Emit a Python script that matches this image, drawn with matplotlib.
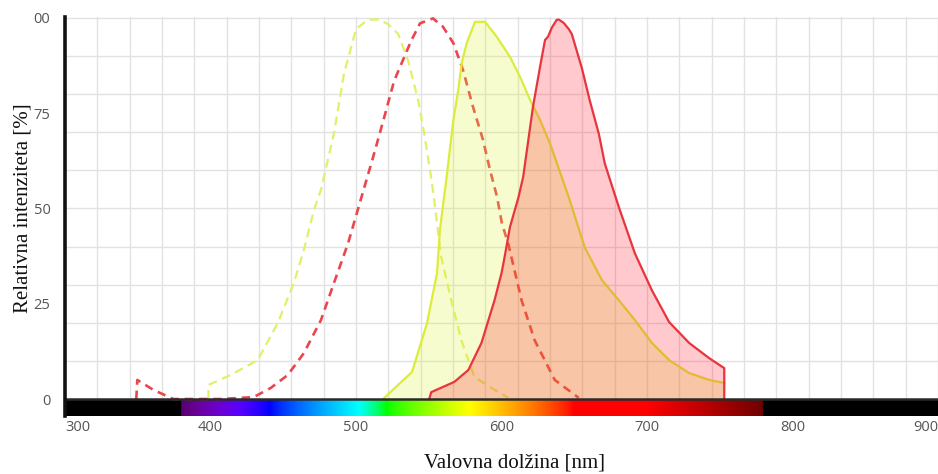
import numpy as np
import matplotlib
matplotlib.use("Agg")
import matplotlib.pyplot as plt

# ---------------- data ----------------
# yellow dye excitation (dashed)
yex_nm = [398.6, 398.6, 413.8, 432.4, 446.2, 457.2, 464.1, 471.0, 476.0, 484.8, 491.7, 500.0,
          508.3, 515.2, 522.0, 529.0, 535.9, 542.8, 546.9, 551.7, 553.8, 558.6, 565.5, 572.4,
          581.4, 595.2, 604.8]
yex_val = [0.0, 3.7, 6.3, 10.2, 19.9, 30.4, 39.0, 49.5, 55.0, 69.6, 85.3, 97.1,
           99.6, 99.6, 98.4, 95.8, 88.7, 78.3, 69.6, 58.0, 52.1, 37.2, 25.9, 15.4,
           5.8, 2.4, 0.3]

# red dye excitation (dashed)
rex_nm = [349.0, 349.7, 360.7, 374.5, 406.9, 429.7, 441.4, 453.1, 464.1, 475.9, 484.8, 494.5,
          503.4, 511.7, 519.3, 526.2, 537.9, 544.0, 552.9, 559.8, 566.9, 573.5, 580.4, 587.3,
          592.1, 596.9, 600.3, 604.8, 613.8, 622.8, 636.6, 653.1]
rex_val = [0.0, 5.0, 2.4, 0.0, 0.0, 0.5, 2.9, 6.3, 12.0, 20.7, 30.4, 40.8,
           52.5, 63.4, 73.8, 83.5, 94.0, 98.6, 99.9, 97.7, 93.4, 86.4, 76.7, 68.0,
           60.1, 53.1, 46.1, 40.5, 25.9, 15.4, 5.0, 0.3]

# yellow dye emission (solid, filled)
yem_nm = [518.6, 538.5, 548.8, 555.7, 557.7, 562.3, 566.9, 570.3, 572.6, 576.1, 581.8, 588.7,
          596.7, 605.8, 612.7, 619.6, 626.5, 633.3, 646.2, 657.2, 669.0, 680.7, 691.7, 703.4,
          715.2, 729.0, 742.8, 753.1, 753.1]
yem_val = [0.0, 7.1, 19.9, 33.1, 44.4, 58.3, 73.2, 81.1, 88.1, 93.4, 99.0, 99.0,
           95.1, 89.8, 84.6, 78.5, 73.2, 67.1, 53.0, 39.8, 31.2, 25.9, 20.7, 14.7,
           10.2, 6.8, 5.0, 4.2, 0.0]

# red dye emission (solid, filled)
rem_nm = [550.3, 551.7, 567.6, 577.2, 586.2, 595.2, 600.0, 602.1, 605.8, 611.7, 614.9,
          621.6, 626.5, 629.9, 632.0, 634.5, 637.9, 639.3, 642.8, 646.2, 648.3, 655.2, 660.7,
          666.9, 671.0, 680.7, 691.7, 703.4, 715.2, 729.0, 742.8, 753.1, 753.1]
rem_val = [0.0, 1.8, 4.5, 7.6, 14.7, 25.9, 33.0, 37.2, 45.1, 53.0, 58.3,
           76.6, 87.2, 94.2, 95.1, 97.4, 99.5, 99.6, 98.7, 97.1, 95.8, 86.9, 78.3,
           69.6, 61.8, 50.3, 38.2, 28.5, 20.2, 14.7, 10.7, 8.1, 0.0]

x_ticks = [300, 400, 500, 600, 700, 800, 900]
x_tick_labels = ["300", "400", "500", "600", "700", "800", "900"]
y_ticks = [0, 25, 50, 75, 100]
y_tick_labels = ["0", "25", "50", "75", "00"]

# ---------------- figure ----------------
W, H = 938, 474
fig = plt.figure(figsize=(W / 100, H / 100), dpi=100)
ax = fig.add_axes([65 / W, (H - 416) / H, (W - 65) / W, (416 - 17) / H])

XMIN, XMAX = 300, 900
YMIN, YMAX = -4.46, 100.26
ax.set_xlim(XMIN, XMAX)
ax.set_ylim(YMIN, YMAX)

# grid
for gx in np.linspace(XMIN, XMAX, 28)[1:]:
    ax.axvline(gx, color="#e2e2e2", lw=1.0, zorder=0)
for gy in np.arange(10, 101, 10):
    ax.axhline(gy, color="#e2e2e2", lw=1.0, zorder=0)


# visible spectrum bar (decoration)
def wl_rgb(w):
    if 380 <= w < 441:
        r, g, b = (441 - w) / 61 * 0.75, 0.0, 1.0
    elif 441 <= w < 502:
        r, g, b = 0.0, (w - 441) / 61, 1.0
    elif 502 <= w < 521:
        r, g, b = 0.0, 1.0, (521 - w) / 19
    elif 521 <= w < 578:
        r, g, b = (w - 521) / 57, 1.0, 0.0
    elif 578 <= w < 650:
        r, g, b = 1.0, (650 - w) / 72, 0.0
    elif 650 <= w <= 780:
        r, g, b = 1.0, 0.0, 0.0
    else:
        return (0.0, 0.0, 0.0)
    if w < 420:
        f = 0.35 + 0.65 * (w - 380) / 40
    elif w > 700:
        f = 0.35 + 0.65 * (780 - w) / 80
    else:
        f = 1.0
    return tuple((c * f) ** 0.8 if c > 0 else 0.0 for c in (r, g, b))


wl = np.arange(XMIN, XMAX + 1, 0.5)
spec = np.array([[wl_rgb(w) for w in wl]])
ax.imshow(spec, extent=[XMIN, XMAX, YMIN, 0], aspect="auto", zorder=1,
          interpolation="bilinear")
ax.axhline(0, color="#2a2a2a", lw=1.8, zorder=6)

# dashed excitation curves
ax.plot(yex_nm, yex_val, color="#e3ef68", lw=1.6, ls=(0, (4, 2.5)), zorder=2)
ax.plot(rex_nm, rex_val, color="#ea4650", lw=1.9, ls=(0, (3.2, 2.2)), zorder=2)

# emission curves
ax.fill_between(yem_nm, yem_val, 0, color=(0.86, 0.95, 0.15), alpha=0.22, lw=0, zorder=3)
ax.plot(yem_nm[:-1], yem_val[:-1], color="#dcec3a", lw=1.6, zorder=3.5)
ax.fill_between(rem_nm, rem_val, 0, color=(1.0, 0.0, 0.08), alpha=0.21, lw=0, zorder=4)
ax.plot(rem_nm, rem_val, color="#e8343c", lw=1.6, zorder=5)

# axes styling
for s in ["top", "right", "bottom"]:
    ax.spines[s].set_visible(False)
ax.spines["left"].set_linewidth(2.6)
ax.spines["left"].set_color("#111111")
ax.spines["left"].set_zorder(7)

ax.set_xticks(x_ticks)
ax.set_xticklabels(x_tick_labels)
ax.set_yticks(y_ticks)
ax.set_yticklabels(y_tick_labels)
ax.tick_params(axis="both", length=0, labelsize=10.5, labelcolor="#555555")
ax.tick_params(axis="x", pad=3)
ax.tick_params(axis="y", pad=10.5)
for lab in ax.get_xticklabels():
    lab.set_fontfamily("Open Sans")
for lab in ax.get_yticklabels():
    lab.set_fontfamily("Open Sans")
xl = ax.get_xticklabels()
xl[0].set_ha("left")
xl[-1].set_ha("right")

fig.text(514 / W, 1 - 463 / H, "Valovna dolžina [nm]", family="Liberation Serif",
         fontsize=15, ha="center", va="center", color="#111111")
fig.text(23 / W, 1 - 208 / H, "Relativna intenziteta [%]", family="Liberation Serif",
         fontsize=15, ha="center", va="center", rotation=90, color="#111111")

fig.savefig("out.png", dpi=100)
